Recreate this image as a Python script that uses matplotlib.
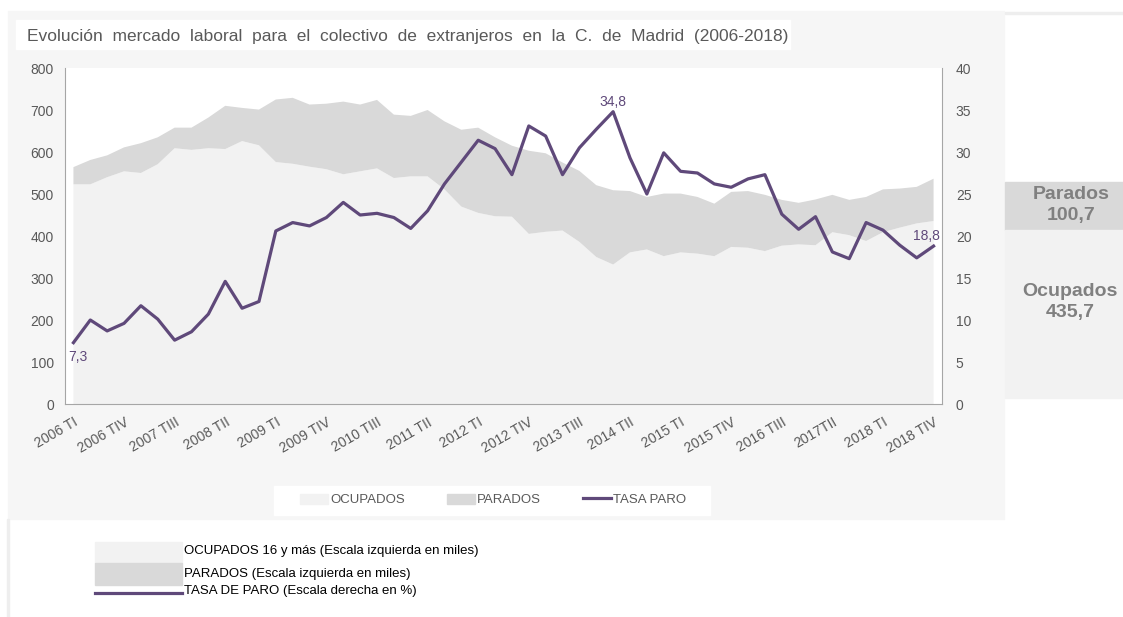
import matplotlib
matplotlib.use("Agg")
import matplotlib.pyplot as plt
from matplotlib.patches import Rectangle, Patch
from matplotlib.lines import Line2D
import numpy as np

plt.rcParams['font.family'] = ['Liberation Sans', 'DejaVu Sans']

# Trimestres 2006 TI - 2018 TIV
years = range(2006, 2019)
quarters = ["TI", "TII", "TIII", "TIV"]
periods = [f"{y} {q}" for y in years for q in quarters]

# Miles de personas
total = [564, 581, 592, 611, 621, 635, 658, 658, 682, 710, 705, 701,
         725, 729, 713, 715, 720, 713, 724, 689, 686, 700, 673, 653,
         658, 635, 615, 603, 597, 575, 555, 521, 509, 507, 493, 501,
         501, 493, 477, 505, 507, 498, 486, 479, 487, 498, 486, 493,
         511, 513, 517, 536.4]
ocupados = [523, 523, 540, 554, 550, 571, 609, 605, 609, 607, 626, 616,
            576, 572, 565, 559, 547, 554, 561, 538, 542, 542, 511, 470,
            455, 447, 446, 405, 410, 413, 386, 350, 332, 361, 368, 352,
            361, 358, 352, 374, 372, 364, 377, 380, 378, 409, 402, 388,
            409, 420, 430, 435.7]
parados = [t - o for t, o in zip(total, ocupados)]

# Tasa de paro (%)
tasa = [7.3, 10.0, 8.7, 9.6, 11.7, 10.1, 7.6, 8.6, 10.7, 14.6, 11.4, 12.2,
        20.6, 21.6, 21.2, 22.2, 24.0, 22.5, 22.7, 22.2, 20.9, 23.0, 26.2, 28.8,
        31.4, 30.4, 27.3, 33.1, 31.9, 27.3, 30.5, 32.7, 34.8, 29.3, 25.0, 29.9,
        27.7, 27.5, 26.2, 25.8, 26.8, 27.3, 22.6, 20.8, 22.3, 18.1, 17.3, 21.6,
        20.7, 18.9, 17.4, 18.8]

tick_idx = list(range(0, 52, 3))
tick_labels = [periods[i] for i in tick_idx]
tick_labels[tick_labels.index("2017 TII")] = "2017TII"

W, H = 1123, 617
C_OCU = "#f2f2f2"
C_PAR = "#d9d9d9"
C_LINE = "#5f497a"
C_TXT = "#595959"


def box(x0, y0, x1, y1):
    return [x0 / W, 1 - y1 / H, (x1 - x0) / W, (y1 - y0) / H]


def rect(x0, y0, x1, y1, color, z=-1):
    fig.patches.append(Rectangle((x0 / W, 1 - y1 / H), (x1 - x0) / W, (y1 - y0) / H,
                                 transform=fig.transFigure, color=color, zorder=z))


fig = plt.figure(figsize=(W / 100, H / 100), dpi=100, facecolor="white")

# fondos
rect(8, 11, 1004, 519, "#f6f6f6", z=-2)
rect(16, 20, 790, 49, "white")
rect(274, 486, 710, 515, "white")
rect(1005, 12.5, 1123, 14, "#eeeeee")
rect(1005, 182, 1123, 230, C_PAR)
rect(1005, 230, 1123, 398, C_OCU)
rect(7, 519, 8.5, 617, "#eeeeee")

fig.text(27 / W, 1 - 36 / H,
         "Evolución  mercado  laboral  para  el  colectivo  de  extranjeros  en  la  C.  de  Madrid  (2006-2018)",
         fontsize=12.5, color=C_TXT, va="center", ha="left")

ax = fig.add_axes(box(65, 68, 942, 404))
ax.set_facecolor("white")
x = np.arange(len(periods))
ax.stackplot(x, ocupados, parados, colors=[C_OCU, C_PAR], linewidth=0)
ax.set_xlim(-0.5, 51.5)
ax.set_ylim(0, 800)
ax.set_yticks(range(0, 801, 100))
ax.set_xticks(tick_idx)
ax.set_xticklabels(tick_labels, rotation=30, ha="right", rotation_mode="anchor")
ax.tick_params(axis="x", length=0, pad=8, labelsize=10, labelcolor=C_TXT)
ax.tick_params(axis="y", length=0, pad=8, labelsize=10, labelcolor=C_TXT)
for s in ["top", "right"]:
    ax.spines[s].set_visible(False)
for s in ["left", "bottom"]:
    ax.spines[s].set_color("#a6a6a6")

ax2 = ax.twinx()
ax2.plot(x, tasa, color=C_LINE, linewidth=2.3)
ax2.set_ylim(0, 40)
ax2.set_yticks(range(0, 41, 5))
ax2.tick_params(axis="y", length=0, pad=10, labelsize=10, labelcolor=C_TXT)
for s in ["top", "left", "bottom"]:
    ax2.spines[s].set_visible(False)
ax2.spines["right"].set_color("#a6a6a6")

ax2.annotate("7,3", (0, tasa[0]), xytext=(3, -10), textcoords="offset points",
             ha="center", va="center", fontsize=10, color=C_LINE)
ax2.annotate("34,8", (32, tasa[32]), xytext=(0, 7), textcoords="offset points",
             ha="center", va="center", fontsize=10, color=C_LINE)
ax2.annotate("18,8", (51, tasa[51]), xytext=(-5, 7), textcoords="offset points",
             ha="center", va="center", fontsize=10, color=C_LINE)

handles = [Patch(color=C_OCU), Patch(color=C_PAR), Line2D([], [], color=C_LINE, lw=2.3)]
fig.legend(handles, ["OCUPADOS", "PARADOS", "TASA PARO"], ncol=3,
           loc="center", bbox_to_anchor=(493 / W, 1 - 500 / H), frameon=False,
           fontsize=9.5, labelcolor=C_TXT, handlelength=2.1, handleheight=0.8,
           handletextpad=0.15, columnspacing=3.2)

# cuadro lateral
fig.text(1071 / W, 1 - 205 / H, "Parados\n100,7", ha="center", va="center",
         fontsize=14, fontweight="bold", color="#808080", linespacing=1.3)
fig.text(1070 / W, 1 - 302 / H, "Ocupados\n435,7", ha="center", va="center",
         fontsize=14, fontweight="bold", color="#808080", linespacing=1.3)

# leyenda inferior
rect(95, 542, 182, 563, C_OCU)
rect(95, 563, 182, 585, C_PAR)
fig.add_artist(Line2D([95 / W, 182 / W], [1 - 593 / H, 1 - 593 / H],
                      transform=fig.transFigure, color=C_LINE, lw=2.3))
fig.text(184 / W, 1 - 551 / H, "OCUPADOS 16 y más (Escala izquierda en miles)",
         fontsize=9.5, va="center", color="black")
fig.text(184 / W, 1 - 574 / H, "PARADOS (Escala izquierda en miles)",
         fontsize=9.5, va="center", color="black")
fig.text(184 / W, 1 - 591 / H, "TASA DE PARO (Escala derecha en %)",
         fontsize=9.5, va="center", color="black")

fig.savefig("out.png", dpi=100, facecolor="white")
